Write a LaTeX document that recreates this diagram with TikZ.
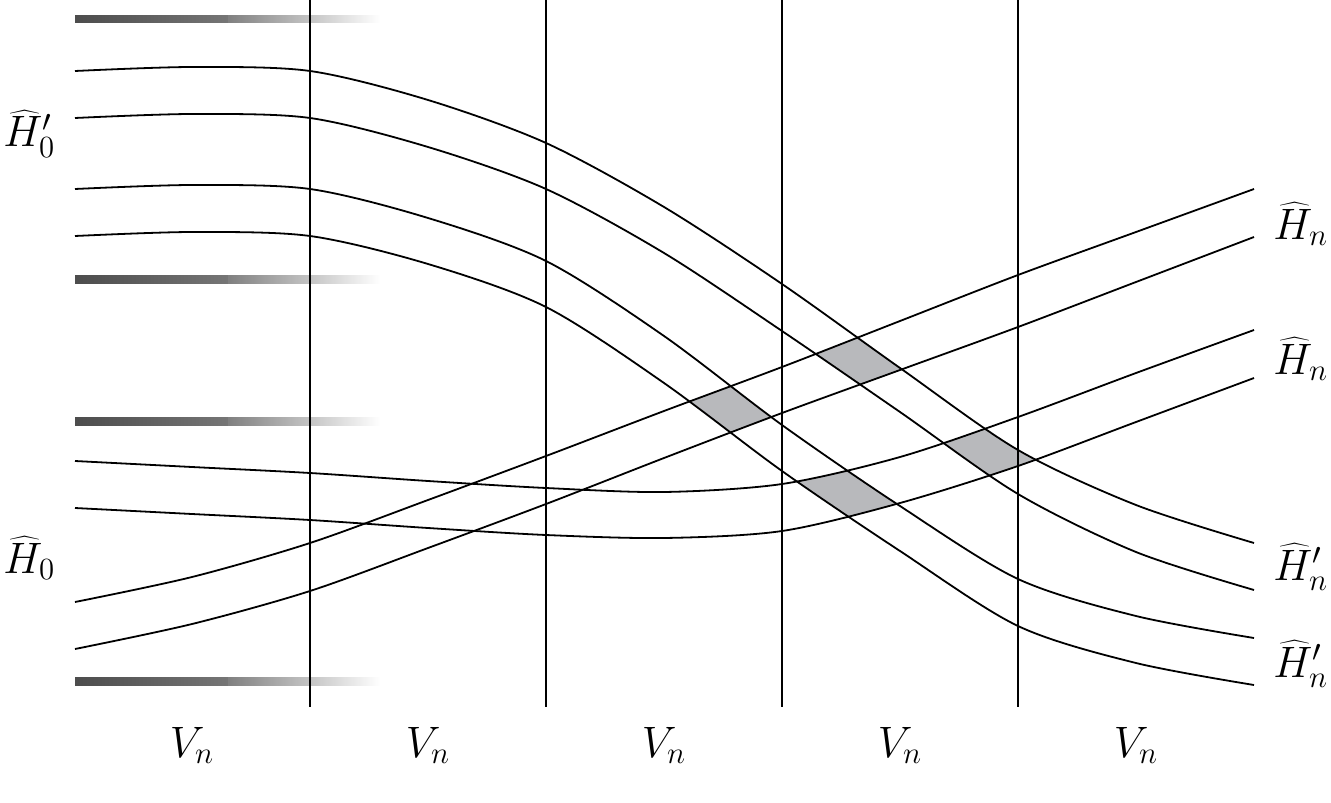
\RequirePackage{fix-cm}
\documentclass[tikz,border=0pt]{standalone}
\definecolor{cellgray}{RGB}{184,185,188}
\begin{document}
\begin{tikzpicture}[x=0.5pt,y=-0.5pt,
  curve/.style={line width=0.9pt},
  vline/.style={line width=0.75pt},
  lab/.style={anchor=base west,inner sep=0pt,font=\fontsize{22}{26}\selectfont},
  vlab/.style={anchor=base,inner sep=0pt,font=\fontsize{22}{26}\selectfont}]
\useasboundingbox (0,0) rectangle (1331,802);
% curve paths (forward) and joined reversed paths
\def\Done{plot[smooth] coordinates {(75,71) (192,67) (310,71) (428,100) (546,143) (664,207) (782,284) (900,368) (1018,450) (1136,505) (1254,543)}}
\def\Dtwo{plot[smooth] coordinates {(75,118) (192,114) (310,118) (428,147) (546,189) (664,253) (782,331) (900,412) (1018,494) (1136,552) (1254,590)}}
\def\DtwoR{-- plot[smooth] coordinates {(1254,590) (1136,552) (1018,494) (900,412) (782,331) (664,253) (546,189) (428,147) (310,118) (192,114) (75,118)}}
\def\Dthree{plot[smooth] coordinates {(75,189) (192,185) (310,189) (428,218) (546,261) (664,336) (782,425) (900,506) (1018,579) (1136,616) (1254,638)}}
\def\Dfour{plot[smooth] coordinates {(75,236) (192,232) (310,236) (428,264) (546,307) (664,383) (782,471) (900,551) (1018,626) (1136,663) (1254,685)}}
\def\DfourR{-- plot[smooth] coordinates {(1254,685) (1136,663) (1018,626) (900,551) (782,471) (664,383) (546,307) (428,264) (310,236) (192,232) (75,236)}}
\def\Rone{plot[smooth] coordinates {(75,602) (192,577) (310,543) (428,500) (546,456) (664,411) (782,367) (900,321) (1018,275) (1136,232) (1254,189)}}
\def\Rtwo{plot[smooth] coordinates {(75,649) (192,624) (310,591) (428,548) (546,504) (664,458) (782,413) (900,370) (1018,327) (1136,282) (1254,237)}}
\def\RtwoR{-- plot[smooth] coordinates {(1254,237) (1136,282) (1018,327) (900,370) (782,413) (664,458) (546,504) (428,548) (310,591) (192,624) (75,649)}}
\def\Fone{plot[smooth] coordinates {(75,461) (192,467) (310,473) (428,481) (546,488) (664,492) (782,484) (900,457) (1018,417) (1136,373) (1254,330)}}
\def\Ftwo{plot[smooth] coordinates {(75,508) (192,514) (310,520) (428,528) (546,535) (664,538) (782,531) (900,503) (1018,466) (1136,422) (1254,378)}}
\def\FtwoR{-- plot[smooth] coordinates {(1254,378) (1136,422) (1018,466) (900,503) (782,531) (664,538) (546,535) (428,528) (310,520) (192,514) (75,508)}}
% gradient bars
\foreach \yy in {19,279.7,421.5,681.3}{
  \shade[left color=black!70,right color=black!54] (75,\yy-3.9) rectangle (228,\yy+3.9);
  \shade[left color=black!50,right color=white] (228,\yy-3.9) rectangle (380,\yy+3.9);
}
% shaded cells
\begin{scope}
  \clip \Done \DtwoR -- cycle;
  \fill[cellgray] \Rone \RtwoR -- cycle;
  \fill[cellgray] \Fone \FtwoR -- cycle;
\end{scope}
\begin{scope}
  \clip \Dthree \DfourR -- cycle;
  \fill[cellgray] \Rone \RtwoR -- cycle;
  \fill[cellgray] \Fone \FtwoR -- cycle;
\end{scope}
% vertical lines
\foreach \xx in {310,546,782,1018}{
  \draw[vline] (\xx,0) -- (\xx,707);
}
% curves
\draw[curve] \Done;
\draw[curve] \Dtwo;
\draw[curve] \Dthree;
\draw[curve] \Dfour;
\draw[curve] \Rone;
\draw[curve] \Rtwo;
\draw[curve] \Fone;
\draw[curve] \Ftwo;
% labels
\node[lab] (h0p) at (3,147) {$\widehat{H}'_0$};
\node[lab] (h0) at (3,573) {$\widehat{H}_0$};
\node[lab] (hna) at (1273,239) {$\widehat{H}_n$};
\node[lab] (hnb) at (1273,374) {$\widehat{H}_n$};
\node[lab] (hnpa) at (1273,580) {$\widehat{H}'_n$};
\node[lab] (hnpb) at (1273,677) {$\widehat{H}'_n$};
\node[vlab] (v1) at (192,757) {$V_n$};
\node[vlab] (v2) at (428,757) {$V_n$};
\node[vlab] (v3) at (664,757) {$V_n$};
\node[vlab] (v4) at (900,757) {$V_n$};
\node[vlab] (v5) at (1136,757) {$V_n$};
\end{tikzpicture}
\end{document}
